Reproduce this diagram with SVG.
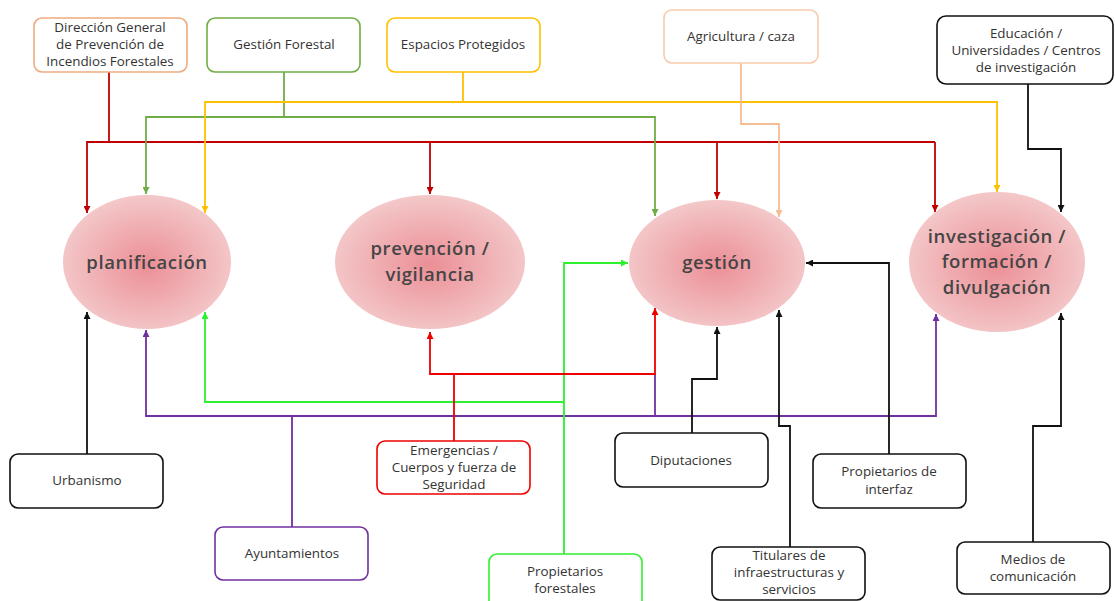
<svg xmlns="http://www.w3.org/2000/svg" width="1115" height="601" viewBox="0 0 1115 601">
<style>
.box{fill:#fff;stroke-width:1.6}
.bt{font-family:"Open Sans","Liberation Sans",sans-serif;font-size:13.4px;fill:#333;text-anchor:middle}
.et{font-family:"Open Sans","Liberation Sans",sans-serif;font-size:18.5px;font-weight:600;fill:#454545;text-anchor:middle;letter-spacing:0.6px}
.c{fill:none;stroke-width:1.8;stroke-linejoin:miter}
</style>
<defs>
<radialGradient id="eg" cx="50%" cy="52%" r="55%">
<stop offset="0" stop-color="#eb8f96"/>
<stop offset="1" stop-color="#f4cbcc"/>
</radialGradient>
<marker id="a-dr" markerWidth="7" markerHeight="7" refX="7" refY="3.5" orient="auto" markerUnits="userSpaceOnUse"><path d="M0,0L7,3.5L0,7z" fill="#c00000"/></marker>
<marker id="a-g" markerWidth="7" markerHeight="7" refX="7" refY="3.5" orient="auto" markerUnits="userSpaceOnUse"><path d="M0,0L7,3.5L0,7z" fill="#70ad47"/></marker>
<marker id="a-y" markerWidth="7" markerHeight="7" refX="7" refY="3.5" orient="auto" markerUnits="userSpaceOnUse"><path d="M0,0L7,3.5L0,7z" fill="#ffc000"/></marker>
<marker id="a-p" markerWidth="7" markerHeight="7" refX="7" refY="3.5" orient="auto" markerUnits="userSpaceOnUse"><path d="M0,0L7,3.5L0,7z" fill="#f5bd94"/></marker>
<marker id="a-k" markerWidth="7" markerHeight="7" refX="7" refY="3.5" orient="auto" markerUnits="userSpaceOnUse"><path d="M0,0L7,3.5L0,7z" fill="#111"/></marker>
<marker id="a-r" markerWidth="7" markerHeight="7" refX="7" refY="3.5" orient="auto" markerUnits="userSpaceOnUse"><path d="M0,0L7,3.5L0,7z" fill="#ee0000"/></marker>
<marker id="a-l" markerWidth="7" markerHeight="7" refX="7" refY="3.5" orient="auto" markerUnits="userSpaceOnUse"><path d="M0,0L7,3.5L0,7z" fill="#2ef02e"/></marker>
<marker id="a-v" markerWidth="7" markerHeight="7" refX="7" refY="3.5" orient="auto" markerUnits="userSpaceOnUse"><path d="M0,0L7,3.5L0,7z" fill="#7030a0"/></marker>
</defs>
<rect width="1115" height="601" fill="#fff"/>

<g id="connectors">
<path class="c" d="M109,72V142H935" stroke="#c00000" stroke-width="2.4"/>
<path class="c" d="M109,142H87V213" stroke="#c00000" marker-end="url(#a-dr)"/>
<path class="c" d="M430,142V194" stroke="#c00000" marker-end="url(#a-dr)"/>
<path class="c" d="M717,142V199" stroke="#c00000" marker-end="url(#a-dr)"/>
<path class="c" d="M935,142V212" stroke="#c00000" marker-end="url(#a-dr)"/>
<path class="c" d="M284,72V117H146V194" stroke="#70ad47" marker-end="url(#a-g)"/>
<path class="c" d="M284,117H655V216" stroke="#70ad47" marker-end="url(#a-g)"/>
<path class="c" d="M463,72V102H205V213" stroke="#ffc000" marker-end="url(#a-y)"/>
<path class="c" d="M463,102H997V192" stroke="#ffc000" marker-end="url(#a-y)"/>
<path class="c" d="M741,63V124H779V217" stroke="#f5bd94" marker-end="url(#a-p)"/>
<path class="c" d="M1028,84V149H1061V212" stroke="#111" marker-end="url(#a-k)"/>
<path class="c" d="M87,454V312" stroke="#111" marker-end="url(#a-k)"/>
<path class="c" d="M292,527V416H146V330" stroke="#7030a0" marker-end="url(#a-v)"/>
<path class="c" d="M292,416H936V314" stroke="#7030a0" marker-end="url(#a-v)"/>
<path class="c" d="M655,416V374" stroke="#7030a0"/>
<path class="c" d="M564,554V263H628" stroke="#2ef02e" marker-end="url(#a-l)"/>
<path class="c" d="M564,402H205V312" stroke="#2ef02e" marker-end="url(#a-l)"/>
<path class="c" d="M454,441V374H430V332" stroke="#ee0000" marker-end="url(#a-r)"/>
<path class="c" d="M454,374H655V308" stroke="#ee0000" marker-end="url(#a-r)"/>
<path class="c" d="M692,433V379H717V327" stroke="#111" marker-end="url(#a-k)"/>
<path class="c" d="M790,547V426H779V310" stroke="#111" marker-end="url(#a-k)"/>
<path class="c" d="M889,454V263H806" stroke="#111" marker-end="url(#a-k)"/>
<path class="c" d="M1033,542V426H1061V313" stroke="#111" marker-end="url(#a-k)"/>
</g>

<g id="planificacion">
<ellipse cx="147" cy="262" rx="84" ry="67" fill="url(#eg)"/>
<text class="et" x="147" y="269">planificación</text>
</g>
<g id="prevencion">
<ellipse cx="430" cy="262" rx="95" ry="67" fill="url(#eg)"/>
<text class="et" x="430" y="255">prevención /</text>
<text class="et" x="430" y="281">vigilancia</text>
</g>
<g id="gestion">
<ellipse cx="717" cy="263" rx="88" ry="63" fill="url(#eg)"/>
<text class="et" x="717" y="269">gestión</text>
</g>
<g id="investigacion">
<ellipse cx="997" cy="262" rx="88" ry="70" fill="url(#eg)"/>
<text class="et" x="997" y="243">investigación /</text>
<text class="et" x="997" y="268">formación /</text>
<text class="et" x="997" y="294">divulgación</text>
</g>

<g id="direccion-general">
<rect class="box" x="34" y="18" width="153" height="54" rx="8" stroke="#eeaa80"/>
<text class="bt" x="110" y="32">Dirección General</text>
<text class="bt" x="110" y="49">de Prevención de</text>
<text class="bt" x="110" y="66">Incendios Forestales</text>
</g>
<g id="gestion-forestal">
<rect class="box" x="207" y="18" width="153" height="54" rx="8" stroke="#70ad47"/>
<text class="bt" x="284" y="49">Gestión Forestal</text>
</g>
<g id="espacios-protegidos">
<rect class="box" x="387" y="18" width="153" height="54" rx="8" stroke="#ffc000"/>
<text class="bt" x="463" y="49">Espacios Protegidos</text>
</g>
<g id="agricultura">
<rect class="box" x="664" y="10" width="154" height="53" rx="8" stroke="#f8cbad"/>
<text class="bt" x="741" y="41">Agricultura / caza</text>
</g>
<g id="educacion">
<rect class="box" x="937" y="16" width="176" height="68" rx="9" stroke="#111"/>
<text class="bt" x="1026" y="38">Educación /</text>
<text class="bt" x="1026" y="55">Universidades / Centros</text>
<text class="bt" x="1026" y="72">de investigación</text>
</g>
<g id="urbanismo">
<rect class="box" x="10" y="454" width="153" height="54" rx="8" stroke="#111"/>
<text class="bt" x="87" y="485">Urbanismo</text>
</g>
<g id="ayuntamientos">
<rect class="box" x="215" y="527" width="153" height="53" rx="8" stroke="#7030a0"/>
<text class="bt" x="292" y="558">Ayuntamientos</text>
</g>
<g id="emergencias">
<rect class="box" x="377" y="441" width="153" height="53" rx="8" stroke="#ee0000"/>
<text class="bt" x="454" y="455">Emergencias /</text>
<text class="bt" x="454" y="472">Cuerpos y fuerza de</text>
<text class="bt" x="454" y="489">Seguridad</text>
</g>
<g id="propietarios-forestales">
<rect class="box" x="489" y="554" width="153" height="60" rx="8" stroke="#2ef02e"/>
<text class="bt" x="565" y="576">Propietarios</text>
<text class="bt" x="565" y="593">forestales</text>
</g>
<g id="diputaciones">
<rect class="box" x="615" y="433" width="153" height="54" rx="8" stroke="#111"/>
<text class="bt" x="691" y="465">Diputaciones</text>
</g>
<g id="titulares">
<rect class="box" x="712" y="547" width="153" height="53" rx="8" stroke="#111"/>
<text class="bt" x="789" y="560">Titulares de</text>
<text class="bt" x="789" y="577">infraestructuras y</text>
<text class="bt" x="789" y="594">servicios</text>
</g>
<g id="propietarios-interfaz">
<rect class="box" x="813" y="454" width="153" height="54" rx="8" stroke="#111"/>
<text class="bt" x="889" y="476">Propietarios de</text>
<text class="bt" x="889" y="494">interfaz</text>
</g>
<g id="medios">
<rect class="box" x="957" y="542" width="153" height="52" rx="8" stroke="#111"/>
<text class="bt" x="1033" y="564">Medios de</text>
<text class="bt" x="1033" y="581">comunicación</text>
</g>
</svg>
